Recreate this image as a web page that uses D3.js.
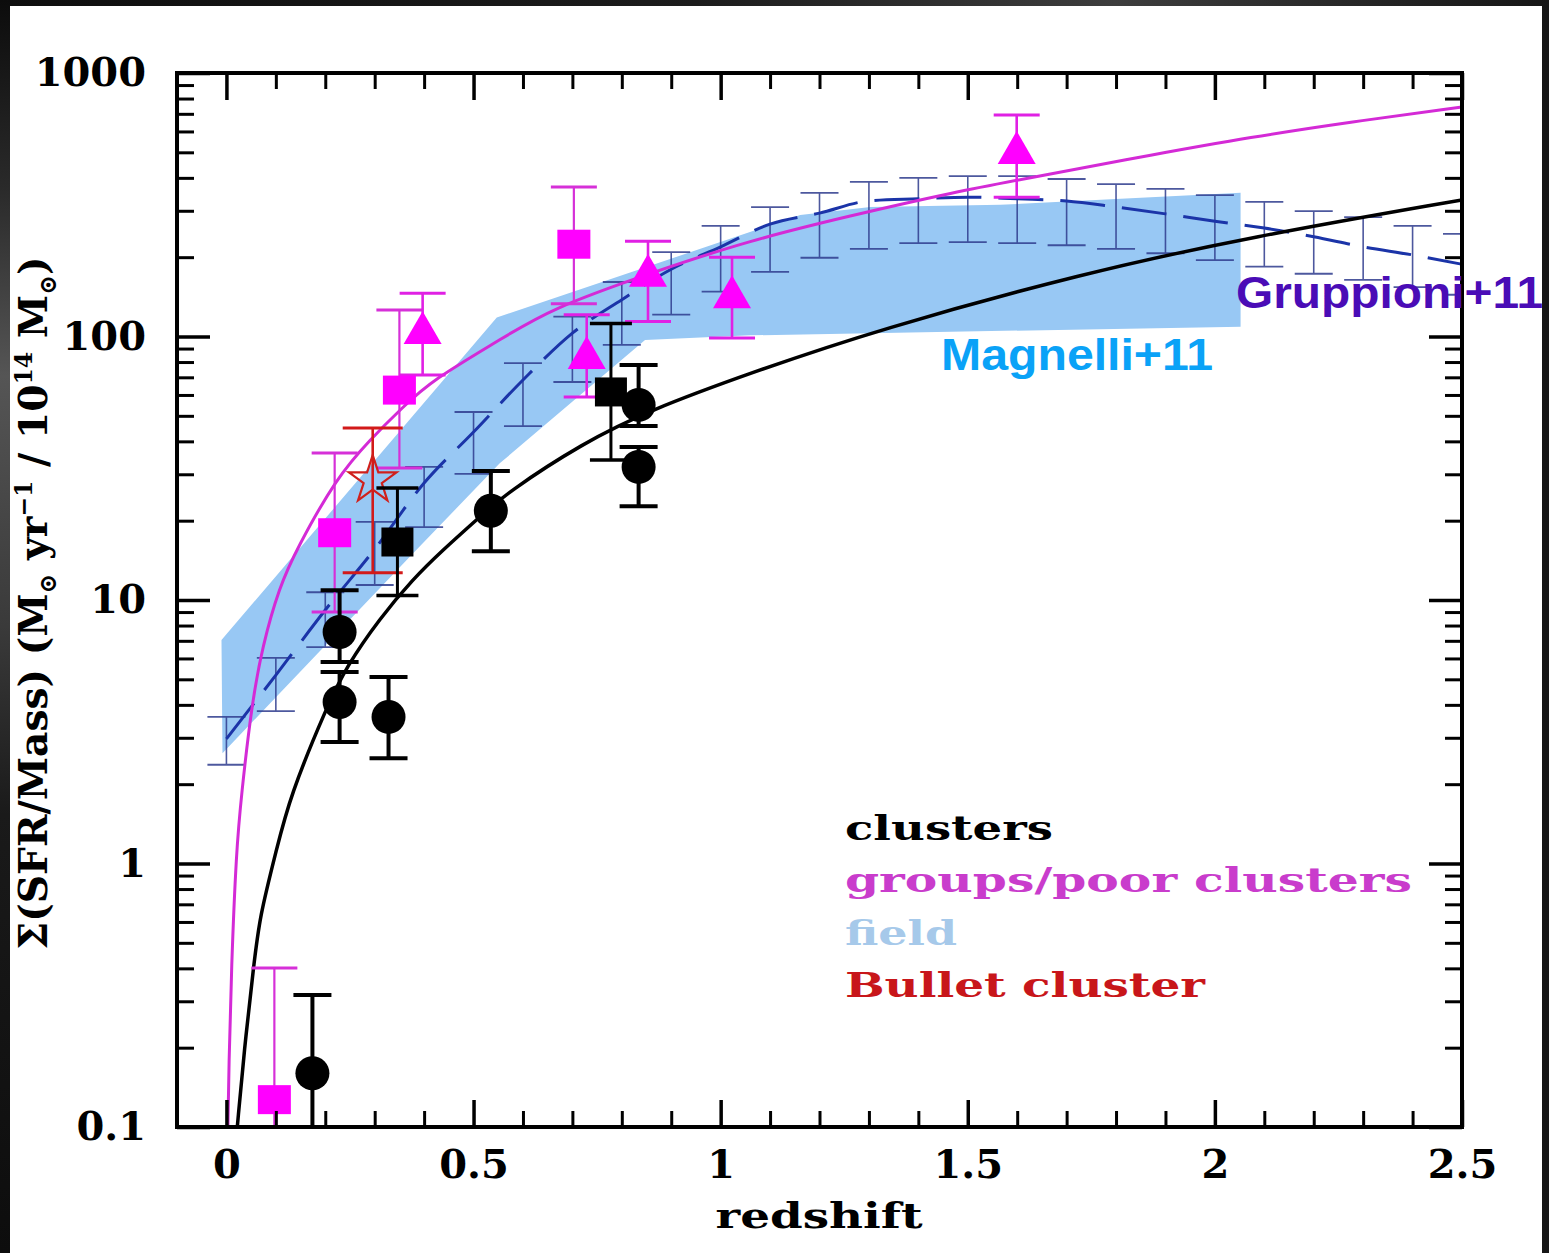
<!DOCTYPE html>
<html>
<head>
<meta charset="utf-8">
<script src="https://cdn.jsdelivr.net/npm/d3@7"></script>
<style>
  html, body { margin: 0; padding: 0; background: #1a1a1a; }
  svg { display: block; }
</style>
</head>
<body>
<svg id="chart" width="1549" height="1253"></svg>
<script>
// ---------- axis ticks ----------
const xMajorTicks = [0, 0.5, 1, 1.5, 2, 2.5];
const xTickLabels = ["0", "0.5", "1", "1.5", "2", "2.5"];
const yMajorTicks = [0.1, 1, 10, 100, 1000];
const yTickLabels = ["0.1", "1", "10", "100", "1000"];

// ---------- field: shaded band (Magnelli+11) ----------
const bandUpperZ   = [-0.01, 0.547, 1.161, 1.303, 1.566, 2.052];
const bandUpperVal = [7.05, 118, 289, 310, 316, 351];
const bandLowerZ   = [2.052, 1.060, 0.847, 0.553, 0.371, -0.008];
const bandLowerVal = [109, 101, 97, 33, 14.6, 2.62];

// ---------- field: binned error bars and dashed trend (Gruppioni+11) ----------
const fieldZ  = [0, 0.1, 0.2, 0.3, 0.4, 0.5, 0.6, 0.7, 0.8, 0.9, 1.0, 1.1, 1.2,
                 1.3, 1.4, 1.5, 1.6, 1.7, 1.8, 1.9, 2.0, 2.1, 2.2, 2.3, 2.4, 2.5];
const fieldHi = [3.60, 6.03, 10.7, 19.8, 32.0, 51.7, 79.3, 119, 161, 209, 263, 310, 351,
                 386, 400, 406, 406, 396, 379, 363, 344, 324, 299, 284, 263, 245];
const fieldLo = [2.37, 3.79, 6.63, 11.4, 18.9, 30.1, 45.7, 67.2, 92.9, 121, 148, 176, 199,
                 215, 226, 228, 226, 222, 215, 207, 195, 184, 173, 164, 154, 144];
const fieldTrend = [2.97, 5.19, 9.16, 15.6, 27.8, 43.4, 68.4, 103, 138, 180, 219, 267, 294,
                    327, 333, 338, 333, 327, 310, 292, 274, 258, 239, 219, 204, 188];

// ---------- model curves ----------
const groupsModelZ   = [0.003, 0.005, 0.010, 0.020, 0.030, 0.051, 0.073, 0.107, 0.142, 0.223,
                        0.290, 0.357, 0.417, 0.553, 0.654, 0.857, 1.060, 1.262, 1.465,
                        1.667, 1.870, 2.073, 2.275, 2.5];
const groupsModelVal = [0.1, 0.17, 0.40, 1.12, 1.80, 4.0, 6.7, 11.2, 15.6, 29.2,
                        40.5, 54.0, 68.4, 97, 127, 174, 232, 287, 351,
                        414, 488, 571, 652, 743];
const clustersModelZ   = [0.022, 0.036, 0.055, 0.067, 0.101, 0.128, 0.203, 0.243, 0.310,
                          0.377, 0.438, 0.513, 0.567, 0.721, 0.857, 1.060, 1.317, 1.734,
                          2.073, 2.5];
const clustersModelVal = [0.1, 0.196, 0.405, 0.627, 1.12, 1.79, 3.93, 5.6, 8.5,
                          12.0, 15.5, 20.7, 25.5, 39.4, 52.6, 72.7, 106, 174,
                          239, 330];

// ---------- clusters (black) ----------
const clusterCircleZ   = [0.174, 0.229, 0.229, 0.328, 0.535, 0.834, 0.834];
const clusterCircleVal = [0.160, 7.56, 4.10, 3.60, 21.8, 55.0, 32.0];
const clusterCircleLo  = [0.05, 5.82, 2.89, 2.51, 15.3, 45.7, 22.7];
const clusterCircleHi  = [0.317, 10.9, 5.33, 5.10, 30.9, 77.9, 38.1];
const clusterSquareZ   = [0.346, 0.778];
const clusterSquareVal = [16.6, 61.6];
const clusterSquareLo  = [10.4, 34.0];
const clusterSquareHi  = [26.6, 112];

// ---------- groups / poor clusters (magenta) ----------
const groupSquareZ   = [0.097, 0.219, 0.350, 0.703];
const groupSquareVal = [0.127, 18.0, 62.6, 224];
const groupSquareLo  = [0.05, 9.0, 31.7, 133];
const groupSquareHi  = [0.401, 36.1, 126, 369];
const groupTriZ   = [0.397, 0.729, 0.853, 1.023, 1.599];
const groupTriVal = [103, 82.9, 170, 141, 497];
const groupTriLo  = [71.4, 58.9, 114, 98.7, 338];
const groupTriHi  = [146, 121, 230, 200, 693];

// ---------- Bullet cluster ----------
const bulletZ = [0.296];
const bulletVal = [28.5];
const bulletLo = [12.7];
const bulletHi = [45.0];

// ---------- legend ----------
const legendLabels = ["clusters", "groups/poor clusters", "field", "Bullet cluster"];
const legendColors = ["#000000", "#c93ccc", "#a6c9ea", "#c8161a"];
const legendWidths = [208, 567, 112, 360];

// ======================================================
const serif = "'DejaVu Serif', 'Liberation Serif', serif";
const sans = "'Liberation Sans', Arial, sans-serif";
const svg = d3.select("#chart");
const defs = svg.append("defs");

// dark surround with soft light streaks
const topGrad = defs.append("linearGradient").attr("id", "topEdge")
  .attr("x1", 0).attr("x2", 1).attr("y1", 0).attr("y2", 0);
[[0, "#0e0e0e"], [0.45, "#1c1c1c"], [0.72, "#3d3d3d"], [0.85, "#2a2a2a"], [1, "#161616"]]
  .forEach(([o, c]) => topGrad.append("stop").attr("offset", o).attr("stop-color", c));
const leftGrad = defs.append("linearGradient").attr("id", "leftEdge")
  .attr("x1", 0).attr("x2", 0).attr("y1", 0).attr("y2", 1);
[[0, "#0c0c0c"], [0.15, "#2a2a2a"], [0.3, "#555555"], [0.5, "#3a3a3a"], [0.65, "#1a1a1a"], [1, "#0d0d0d"]]
  .forEach(([o, c]) => leftGrad.append("stop").attr("offset", o).attr("stop-color", c));

svg.append("rect").attr("width", 1549).attr("height", 1253).attr("fill", "url(#topEdge)");
svg.append("rect").attr("width", 10).attr("height", 1253).attr("fill", "url(#leftEdge)");
svg.append("rect").attr("x", 10).attr("y", 6).attr("width", 1532).attr("height", 1247).attr("fill", "#ffffff");

// ---------- scales ----------
const x = d3.scaleLinear().domain([-0.1, 2.5]).range([177, 1462]);
const y = d3.scaleLog().domain([0.1, 1000]).range([1127, 73]);

defs.append("clipPath").attr("id", "plotClip")
  .append("rect").attr("x", 177).attr("y", 73).attr("width", 1285).attr("height", 1054);

const plot = svg.append("g").attr("clip-path", "url(#plotClip)");

// ---------- field band ----------
const bandPts = bandUpperZ.map((z, i) => [z, bandUpperVal[i]])
  .concat(bandLowerZ.map((z, i) => [z, bandLowerVal[i]]));
plot.append("path")
  .attr("d", d3.line().x(d => x(d[0])).y(d => y(d[1])).curve(d3.curveLinearClosed)(bandPts))
  .attr("fill", "#98c8f4");

// ---------- generic error bars ----------
function errorBars(g, zs, lo, hi, opt) {
  const d = zs.map((z, i) => ({ z, lo: lo[i], hi: hi[i] }));
  const grp = g.append("g").attr("stroke", opt.color).attr("fill", "none");
  grp.selectAll("line.v").data(d).join("line")
    .attr("x1", e => x(e.z)).attr("x2", e => x(e.z))
    .attr("y1", e => y(e.lo)).attr("y2", e => y(e.hi))
    .attr("stroke-width", opt.vWidth);
  ["lo", "hi"].forEach(k => {
    grp.selectAll("line.c" + k).data(d).join("line")
      .attr("x1", e => x(e.z) - opt.cap / 2).attr("x2", e => x(e.z) + opt.cap / 2)
      .attr("y1", e => y(e[k])).attr("y2", e => y(e[k]))
      .attr("stroke-width", opt.capWidth);
  });
  return grp;
}

// field binned bars
errorBars(plot, fieldZ, fieldLo, fieldHi, { color: "#2f3c8e", vWidth: 1.6, capWidth: 1.8, cap: 38 })
  .attr("opacity", 0.85);

// field dashed trend
plot.append("path")
  .datum(fieldZ.map((z, i) => [z, fieldTrend[i]]))
  .attr("d", d3.line().x(d => x(d[0])).y(d => y(d[1])).curve(d3.curveMonotoneX))
  .attr("fill", "none").attr("stroke", "#1b34a8").attr("stroke-width", 3)
  .attr("stroke-dasharray", "45,17");

// clusters model curve
plot.append("path")
  .datum(clustersModelZ.map((z, i) => [z, clustersModelVal[i]]))
  .attr("d", d3.line().x(d => x(d[0])).y(d => y(d[1])).curve(d3.curveBasis))
  .attr("fill", "none").attr("stroke", "#000").attr("stroke-width", 3.5);

// groups model curve
plot.append("path")
  .datum(groupsModelZ.map((z, i) => [z, groupsModelVal[i]]))
  .attr("d", d3.line().x(d => x(d[0])).y(d => y(d[1])).curve(d3.curveBasis))
  .attr("fill", "none").attr("stroke", "#d42ad6").attr("stroke-width", 3);

// ---------- groups / poor clusters ----------
errorBars(plot, groupSquareZ, groupSquareLo, groupSquareHi, { color: "#d630d8", vWidth: 2.2, capWidth: 3, cap: 46 });
errorBars(plot, groupTriZ, groupTriLo, groupTriHi, { color: "#e020e4", vWidth: 2.6, capWidth: 3, cap: 46 });
plot.append("g").selectAll("rect").data(groupSquareZ.map((z, i) => [z, groupSquareVal[i]])).join("rect")
  .attr("x", d => x(d[0]) - 16.5).attr("y", d => y(d[1]) - 14.5)
  .attr("width", 33).attr("height", 29).attr("fill", "#ff00ff");
plot.append("g").selectAll("path").data(groupTriZ.map((z, i) => [z, groupTriVal[i]])).join("path")
  .attr("d", d3.symbol(d3.symbolTriangle, 625))
  .attr("transform", d => `translate(${x(d[0])},${y(d[1])})`)
  .attr("fill", "#ff00ff");

// ---------- Bullet cluster ----------
errorBars(plot, bulletZ, bulletLo, bulletHi, { color: "#d21a1a", vWidth: 2.6, capWidth: 3, cap: 60 });
plot.append("g").selectAll("path").data(bulletZ.map((z, i) => [z, bulletVal[i]])).join("path")
  .attr("d", d3.symbol(d3.symbolStar, 700))
  .attr("transform", d => `translate(${x(d[0])},${y(d[1])})`)
  .attr("fill", "none").attr("stroke", "#d0201c").attr("stroke-width", 2.2);

// ---------- clusters ----------
errorBars(plot, clusterSquareZ, clusterSquareLo, clusterSquareHi, { color: "#000", vWidth: 3, capWidth: 3.5, cap: 42 });
errorBars(plot, clusterCircleZ, clusterCircleLo, clusterCircleHi, { color: "#000", vWidth: 4, capWidth: 4, cap: 38 });
plot.append("g").selectAll("rect").data(clusterSquareZ.map((z, i) => [z, clusterSquareVal[i]])).join("rect")
  .attr("x", d => x(d[0]) - 16).attr("y", d => y(d[1]) - 14.5)
  .attr("width", 32).attr("height", 29).attr("fill", "#000");
plot.append("g").selectAll("circle").data(clusterCircleZ.map((z, i) => [z, clusterCircleVal[i]])).join("circle")
  .attr("cx", d => x(d[0])).attr("cy", d => y(d[1])).attr("r", 17).attr("fill", "#000");

// ---------- axes (ticks point inward on all four sides) ----------
const xMinor = d3.range(1, 25).map(i => i / 10).filter(v => Math.abs(v * 2 - Math.round(v * 2)) > 1e-6);
const yMinor = [];
[0.1, 1, 10, 100].forEach(dec => { for (let m = 2; m <= 9; m++) yMinor.push(dec * m); });

function styleAxis(g, width) {
  g.select(".domain").remove();
  g.selectAll(".tick line").attr("stroke", "#000").attr("stroke-width", width);
}

svg.append("g").attr("transform", "translate(0,1127)")
  .call(d3.axisBottom(x).tickValues(xMinor).tickSize(-16).tickFormat(""))
  .call(g => styleAxis(g, 3));
svg.append("g").attr("transform", "translate(0,73)")
  .call(d3.axisTop(x).tickValues(xMinor).tickSize(-16).tickFormat(""))
  .call(g => styleAxis(g, 3));
svg.append("g").attr("transform", "translate(0,73)")
  .call(d3.axisTop(x).tickValues(xMajorTicks).tickSize(-27).tickFormat(""))
  .call(g => styleAxis(g, 3.5));
svg.append("g").attr("transform", "translate(0,1127)")
  .call(d3.axisBottom(x).tickValues(xMajorTicks).tickSize(-27).tickPadding(23)
    .tickFormat((d, i) => xTickLabels[i]))
  .call(g => styleAxis(g, 3.5))
  .call(g => g.selectAll("text").attr("font-family", serif).attr("font-weight", "bold")
    .attr("font-size", 40).attr("fill", "#000"));

svg.append("g").attr("transform", "translate(177,0)")
  .call(d3.axisLeft(y).tickValues(yMinor).tickSize(-17).tickFormat(""))
  .call(g => styleAxis(g, 3));
svg.append("g").attr("transform", "translate(1462,0)")
  .call(d3.axisRight(y).tickValues(yMinor).tickSize(-17).tickFormat(""))
  .call(g => styleAxis(g, 3));
svg.append("g").attr("transform", "translate(1462,0)")
  .call(d3.axisRight(y).tickValues(yMajorTicks).tickSize(-33).tickFormat(""))
  .call(g => styleAxis(g, 3.5));
svg.append("g").attr("transform", "translate(177,0)")
  .call(d3.axisLeft(y).tickValues(yMajorTicks).tickSize(-33).tickPadding(31)
    .tickFormat((d, i) => yTickLabels[i]))
  .call(g => styleAxis(g, 3.5))
  .call(g => g.selectAll("text").attr("font-family", serif).attr("font-weight", "bold")
    .attr("font-size", 40).attr("fill", "#000"));

// frame
svg.append("rect").attr("x", 177).attr("y", 73).attr("width", 1285).attr("height", 1054)
  .attr("fill", "none").attr("stroke", "#000").attr("stroke-width", 4);

// ---------- axis titles ----------
svg.append("text").attr("x", 819).attr("y", 1228).attr("text-anchor", "middle")
  .attr("font-family", serif).attr("font-weight", "bold").attr("font-size", 36)
  .attr("textLength", 207).attr("lengthAdjust", "spacingAndGlyphs")
  .text("redshift");

const yTitle = svg.append("text")
  .attr("font-family", serif).attr("font-weight", "bold").attr("font-size", 40)
  .attr("text-anchor", "middle").attr("fill", "#000");
const parts = [
  ["Σ(SFR/Mass) (M", 40, 0], ["⊙", 24, 9], [" yr", 40, -9], ["−1", 24, -15],
  [" / 10", 40, 15], ["14", 24, -15], [" M", 40, 15], ["⊙", 24, 9], [")", 40, -9]
];
parts.forEach(([t, fs, dy]) => yTitle.append("tspan").attr("font-size", fs).attr("dy", dy).text(t));
const titleLen = yTitle.node().getComputedTextLength();
yTitle.attr("transform", `translate(47,603) rotate(-90) scale(${693 / titleLen},1)`);

// ---------- legend ----------
svg.append("g").selectAll("text").data(legendLabels).join("text")
  .attr("x", 845).attr("y", (d, i) => 840 + i * 52.3)
  .attr("font-family", serif).attr("font-weight", "bold").attr("font-size", 34)
  .attr("fill", (d, i) => legendColors[i])
  .attr("textLength", (d, i) => legendWidths[i]).attr("lengthAdjust", "spacingAndGlyphs")
  .text(d => d);

// ---------- source annotations ----------
svg.append("text").attr("x", 941).attr("y", 370)
  .attr("font-family", sans).attr("font-weight", "bold").attr("font-size", 45)
  .attr("fill", "#0aa2f7").attr("textLength", 272).attr("lengthAdjust", "spacingAndGlyphs")
  .text("Magnelli+11");
svg.append("text").attr("x", 1236).attr("y", 308)
  .attr("font-family", sans).attr("font-weight", "bold").attr("font-size", 44)
  .attr("fill", "#4a0cb6").attr("textLength", 307).attr("lengthAdjust", "spacingAndGlyphs")
  .text("Gruppioni+11");
</script>
</body>
</html>
